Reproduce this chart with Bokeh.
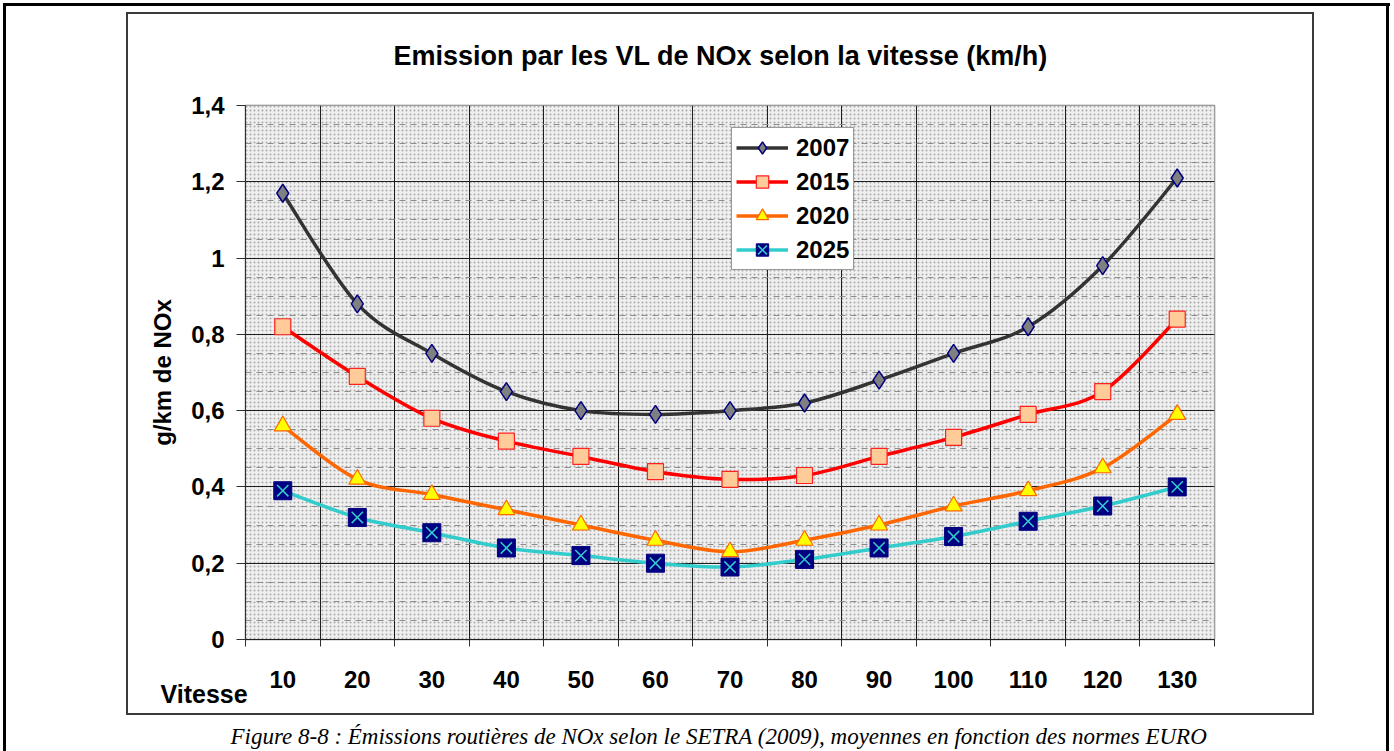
from bokeh.plotting import figure
from bokeh.models import (FixedTicker, Range1d, Title, BoxAnnotation, Legend,
                          LegendItem, CustomJSTickFormatter)
from bokeh.embed import file_html
from bokeh.resources import INLINE

# ---------------- data ----------------
speeds = [10, 20, 30, 40, 50, 60, 70, 80, 90, 100, 110, 120, 130]
nox_2007 = [1.17, 0.88, 0.75, 0.65, 0.60, 0.59, 0.60, 0.62, 0.68, 0.75, 0.82, 0.98, 1.21]
nox_2015 = [0.82, 0.69, 0.58, 0.52, 0.48, 0.44, 0.42, 0.43, 0.48, 0.53, 0.59, 0.65, 0.84]
nox_2020 = [0.56, 0.42, 0.38, 0.34, 0.30, 0.26, 0.23, 0.26, 0.30, 0.35, 0.39, 0.45, 0.59]
nox_2025 = [0.39, 0.32, 0.28, 0.24, 0.22, 0.20, 0.19, 0.21, 0.24, 0.27, 0.31, 0.35, 0.40]
y_ticks = [0, 0.2, 0.4, 0.6, 0.8, 1.0, 1.2, 1.4]
y_minor = [0.05, 0.1, 0.15, 0.25, 0.3, 0.35, 0.45, 0.5, 0.55, 0.65, 0.7, 0.75,
           0.85, 0.9, 0.95, 1.05, 1.1, 1.15, 1.25, 1.3, 1.35]

title_text = "Emission par les VL de NOx selon la vitesse (km/h)"
caption_text = ("Figure 8-8 : Émissions routières de NOx selon le SETRA (2009), "
                "moyennes en fonction des normes EURO")

# ---------------- layout (canvas pixels) ----------------
W, H = 1394, 751
FL, FR, FT, FB = 245, 1214, 105, 639
N = len(speeds)
xs = list(range(1, N + 1))
bounds = [i + 0.5 for i in range(N + 1)]
SANS = "Liberation Sans"

# decorative chart frames (outer thick black, inner thin grey), drawn as CSS
frame_css = {
    "background-image": ", ".join(["linear-gradient(#000,#000)"] * 3 +
                                  ["linear-gradient(#3a3a3a,#3a3a3a)"] * 4),
    "background-size": "3px 751px, 1387px 3px, 3px 751px, "
                       "2px 703px, 2px 703px, 1188px 2px, 1188px 2px",
    "background-position": "3px 3px, 3px 3px, 1386px 3px, "
                           "126px 12px, 1312px 12px, 126px 12px, 126px 713px",
    "background-repeat": "no-repeat",
}

p = figure(width=W, height=H, output_backend="svg", toolbar_location=None,
           title=title_text,
           x_range=Range1d(0.5, N + 0.5), y_range=Range1d(0, 1.4),
           min_border_left=FL, min_border_right=W - FR,
           min_border_top=FT, min_border_bottom=H - FB)
p.styles = frame_css
p.background_fill_color = "#e2e2e2"
p.border_fill_color = "white"
p.border_fill_alpha = 0
p.outline_line_color = "#808080"
p.outline_line_width = 1.5

# title
p.title.align = "left"
p.title.offset = 148
p.title.vertical_align = "bottom"
p.title.standoff = 70
p.title.text_font = SANS
p.title.text_font_style = "bold"
p.title.text_font_size = "27px"
p.title.text_color = "black"

# dotted background pattern
p.add_layout(BoxAnnotation(fill_color="#efefef", fill_alpha=1, hatch_pattern="dot",
                           hatch_color="#a8a8a8", hatch_scale=4, hatch_weight=1,
                           line_color=None, level="image"))

# grids
p.xgrid.ticker = FixedTicker(ticks=bounds)
p.xgrid.grid_line_color = "#1e1e1e"
p.xgrid.grid_line_width = 1
p.ygrid.ticker = FixedTicker(ticks=y_ticks, minor_ticks=y_minor)
p.ygrid.grid_line_color = "#1e1e1e"
p.ygrid.grid_line_width = 1
p.ygrid.minor_grid_line_color = "#8c8c8c"
p.ygrid.minor_grid_line_dash = "6 5"
p.ygrid.minor_grid_line_width = 1

# y axis
p.yaxis.ticker = FixedTicker(ticks=y_ticks)
p.yaxis.formatter = CustomJSTickFormatter(
    code="var s = (Math.round(tick*10)/10).toString(); return s.replace('.', ',');")
p.yaxis.major_tick_out = 9
p.yaxis.major_tick_in = 0
p.yaxis.minor_tick_out = 0
p.yaxis.minor_tick_in = 0
p.yaxis.axis_line_color = "#303030"
p.yaxis.major_tick_line_color = "#303030"
p.yaxis.major_label_standoff = 12
p.yaxis.major_label_text_font = SANS
p.yaxis.major_label_text_font_style = "bold"
p.yaxis.major_label_text_font_size = "24px"
p.yaxis.major_label_text_color = "black"
p.yaxis.axis_label = "g/km de NOx"
p.yaxis.axis_label_text_font = SANS
p.yaxis.axis_label_text_font_style = "bold"
p.yaxis.axis_label_text_font_size = "24px"
p.yaxis.axis_label_text_color = "black"
p.yaxis.axis_label_standoff = 12

# x axis: labels at category centres, tick marks at boundaries
p.xaxis.ticker = FixedTicker(ticks=xs, minor_ticks=bounds)
p.xaxis.major_label_overrides = {x: str(s) for x, s in zip(xs, speeds)}
p.xaxis.major_tick_out = 0
p.xaxis.major_tick_in = 0
p.xaxis.minor_tick_out = 7
p.xaxis.minor_tick_in = 0
p.xaxis.axis_line_color = "#202020"
p.xaxis.minor_tick_line_color = "#303030"
p.xaxis.major_label_standoff = 24
p.xaxis.major_label_text_font = SANS
p.xaxis.major_label_text_font_style = "bold"
p.xaxis.major_label_text_font_size = "24px"
p.xaxis.major_label_text_color = "black"

# "Vitesse" and the figure caption, in the panel below the x axis
p.add_layout(Title(text="Vitesse", align="left", offset=-85, vertical_align="top",
                   standoff=-21, text_font=SANS, text_font_style="bold",
                   text_font_size="25px", text_color="black"), "below")
p.add_layout(Title(text="\n" + caption_text, align="left", offset=-15,
                   vertical_align="bottom", standoff=-6,
                   text_font="Liberation Serif", text_font_style="italic",
                   text_font_size="23px", text_color="black"), "below")


def smooth(xv, yv, t=1 / 6):
    n = len(xv)
    d = dict(x0=[], y0=[], x1=[], y1=[], cx0=[], cy0=[], cx1=[], cy1=[])
    for i in range(n - 1):
        a, b = max(i - 1, 0), min(i + 2, n - 1)
        d["x0"].append(xv[i]); d["y0"].append(yv[i])
        d["x1"].append(xv[i + 1]); d["y1"].append(yv[i + 1])
        d["cx0"].append(xv[i] + (xv[i + 1] - xv[a]) * t)
        d["cy0"].append(yv[i] + (yv[i + 1] - yv[a]) * t)
        d["cx1"].append(xv[i + 1] - (xv[b] - xv[i]) * t)
        d["cy1"].append(yv[i + 1] - (yv[b] - yv[i]) * t)
    return d


items = []

# 2007
l1 = p.bezier(**smooth(xs, nox_2007), line_color="#333333", line_width=3.5)
m1 = p.scatter(xs, nox_2007, marker="diamond", size=18, fill_color="#808080",
               line_color="#000080", line_width=1.5)
items.append(LegendItem(label="2007", renderers=[l1, m1]))

# 2015
l2 = p.bezier(**smooth(xs, nox_2015), line_color="#ff0000", line_width=3.5)
m2 = p.scatter(xs, nox_2015, marker="square", size=16, fill_color="#ffcc99",
               line_color="#ff2020", line_width=1.2)
items.append(LegendItem(label="2015", renderers=[l2, m2]))

# 2020
l3 = p.bezier(**smooth(xs, nox_2020), line_color="#ff6600", line_width=3.5)
m3 = p.scatter(xs, nox_2020, marker="triangle", size=17, fill_color="#ffff00",
               line_color="#ff6600", line_width=1.2)
items.append(LegendItem(label="2020", renderers=[l3, m3]))

# 2025
l4 = p.bezier(**smooth(xs, nox_2025), line_color="#33cccc", line_width=3.5)
m4 = p.scatter(xs, nox_2025, marker="square", size=18, fill_color="#000080",
               line_color="#000080", line_width=1)
m4x = p.scatter(xs, nox_2025, marker="x", size=16, line_color="#33cccc", line_width=1.5)
items.append(LegendItem(label="2025", renderers=[l4, m4, m4x]))

legend = Legend(items=items, location=(486, 369), orientation="vertical",
                label_text_font=SANS, label_text_font_style="bold",
                label_text_font_size="24px", label_text_color="black",
                glyph_width=52, glyph_height=31, label_height=31,
                spacing=3, padding=4, margin=0, label_standoff=8,
                border_line_color="#333333", border_line_width=1.5,
                background_fill_color="white", background_fill_alpha=1)
p.add_layout(legend)

open("out.html", "w").write(file_html(p, INLINE))
